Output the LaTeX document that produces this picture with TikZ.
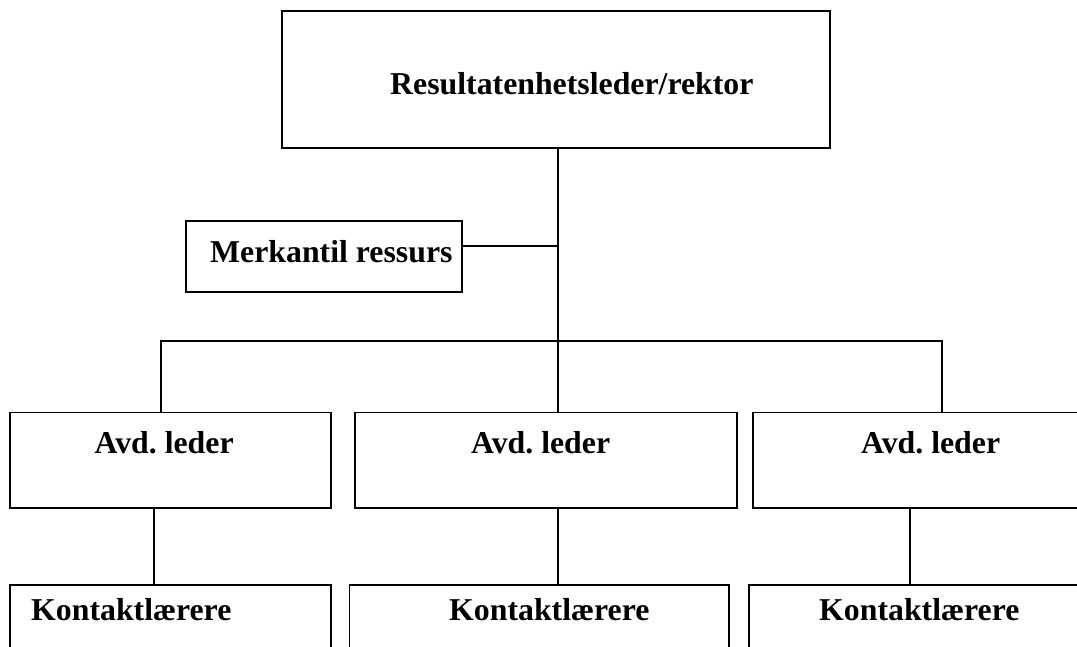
\documentclass[tikz,border=0pt]{standalone}
\usepackage{fontspec}
\setmainfont{Liberation Serif}
\frenchspacing
\usetikzlibrary{positioning}

\begin{document}
\begin{tikzpicture}[
    x=1pt, y=-1pt,
    box/.style={draw, rectangle, line width=1.8pt, anchor=north west, inner sep=0pt, outer sep=0pt},
    lbl/.style={anchor=base west, inner sep=0pt, font=\fontsize{31.8}{36}\selectfont\bfseries},
    link/.style={line width=1.8pt}
]
\useasboundingbox (0,0) rectangle (1077,646);
\clip (0,0) rectangle (1077,646);

% Top level
\node[box, minimum width=548pt, minimum height=137pt] (rektor) at (282,11) {};
\node[lbl] (rektortxt) at (390,94) {Resultatenhetsleder/rektor};

% Staff
\node[box, minimum width=276pt, minimum height=71pt] (merk) at (186,221) {};
\node[lbl] (merktxt) at (210,262) {Merkantil ressurs};

% Department heads
\node[box, minimum width=321.4pt, minimum height=95.5pt] (avd1) at (9.6,412.5) {};
\node[box, minimum width=382pt, minimum height=95.5pt] (avd2) at (355,412.5) {};
\node[box, minimum width=350pt, minimum height=95.5pt] (avd3) at (753,412.5) {};
\node[lbl] (avd1txt) at (94.5,453) {Avd. leder};
\node[lbl] (avd2txt) at (471,453) {Avd. leder};
\node[lbl] (avd3txt) at (861,453) {Avd. leder};

% Contact teachers
\node[box, minimum width=321.4pt, minimum height=120pt] (kon1) at (9.6,585) {};
\node[box, minimum width=379.5pt, minimum height=120pt] (kon2) at (349.5,585) {};
\node[box, minimum width=350pt, minimum height=120pt] (kon3) at (749,585) {};
\node[lbl] (kon1txt) at (31,620) {Kontaktlærere};
\node[lbl] (kon2txt) at (449,620) {Kontaktlærere};
\node[lbl] (kon3txt) at (819,620) {Kontaktlærere};

% Joints
\coordinate (hub) at (557.7,341);
\coordinate (lft) at (161,341);
\coordinate (rgt) at (942,341);
\coordinate (mjoin) at (557.7,246);
\coordinate (drop1) at (154,0);
\coordinate (drop2) at (557.8,0);
\coordinate (drop3) at (910,0);

% Lines
\draw[link] (rektor.south -| hub) -- (avd2.north -| hub);
\draw[link] (merk.east |- mjoin) -- (mjoin);
\draw[link] (avd1.north -| lft) -- (lft) -- (rgt) -- (avd3.north -| rgt);
\draw[link] (avd1.south -| drop1) -- (kon1.north -| drop1);
\draw[link] (avd2.south -| drop2) -- (kon2.north -| drop2);
\draw[link] (avd3.south -| drop3) -- (kon3.north -| drop3);

\end{tikzpicture}
\end{document}
